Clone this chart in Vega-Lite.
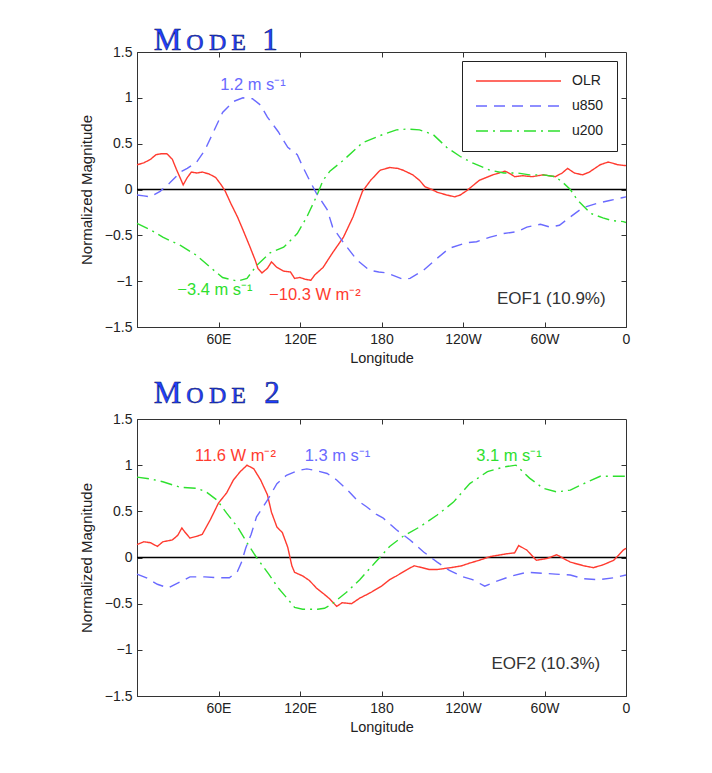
{
  "$schema": "https://vega.github.io/schema/vega-lite/v6.json",
  "background": "white",
  "padding": {"left": 78, "top": 24, "right": 5, "bottom": 5},
  "spacing": 12,
  "datasets": {
    "p1": [
      {"series":"OLR","lon":0,"v":0.27},{"series":"OLR","lon":5,"v":0.29},{"series":"OLR","lon":10,"v":0.33},{"series":"OLR","lon":14,"v":0.38},{"series":"OLR","lon":18,"v":0.39},{"series":"OLR","lon":22,"v":0.39},{"series":"OLR","lon":26,"v":0.33},{"series":"OLR","lon":29,"v":0.22},{"series":"OLR","lon":32,"v":0.12},{"series":"OLR","lon":34,"v":0.05},{"series":"OLR","lon":37,"v":0.13},{"series":"OLR","lon":40,"v":0.19},{"series":"OLR","lon":44,"v":0.18},{"series":"OLR","lon":48,"v":0.19},{"series":"OLR","lon":53,"v":0.17},{"series":"OLR","lon":58,"v":0.13},{"series":"OLR","lon":62,"v":0.05},{"series":"OLR","lon":65,"v":-0.02},{"series":"OLR","lon":69,"v":-0.15},{"series":"OLR","lon":74,"v":-0.3},{"series":"OLR","lon":78,"v":-0.44},{"series":"OLR","lon":83,"v":-0.62},{"series":"OLR","lon":87,"v":-0.77},{"series":"OLR","lon":89,"v":-0.86},{"series":"OLR","lon":92,"v":-0.91},{"series":"OLR","lon":96,"v":-0.86},{"series":"OLR","lon":99,"v":-0.79},{"series":"OLR","lon":103,"v":-0.85},{"series":"OLR","lon":108,"v":-0.89},{"series":"OLR","lon":113,"v":-0.9},{"series":"OLR","lon":116,"v":-0.97},{"series":"OLR","lon":120,"v":-0.96},{"series":"OLR","lon":124,"v":-0.98},{"series":"OLR","lon":128,"v":-0.99},{"series":"OLR","lon":131,"v":-0.93},{"series":"OLR","lon":137,"v":-0.85},{"series":"OLR","lon":144,"v":-0.69},{"series":"OLR","lon":152,"v":-0.52},{"series":"OLR","lon":159,"v":-0.3},{"series":"OLR","lon":166,"v":-0.02},{"series":"OLR","lon":172,"v":0.1},{"series":"OLR","lon":179,"v":0.21},{"series":"OLR","lon":186,"v":0.24},{"series":"OLR","lon":192,"v":0.23},{"series":"OLR","lon":196,"v":0.21},{"series":"OLR","lon":203,"v":0.16},{"series":"OLR","lon":208,"v":0.1},{"series":"OLR","lon":212,"v":0.03},{"series":"OLR","lon":217,"v":0.0},{"series":"OLR","lon":221,"v":-0.03},{"series":"OLR","lon":228,"v":-0.06},{"series":"OLR","lon":234,"v":-0.08},{"series":"OLR","lon":238,"v":-0.06},{"series":"OLR","lon":243,"v":-0.01},{"series":"OLR","lon":252,"v":0.1},{"series":"OLR","lon":262,"v":0.16},{"series":"OLR","lon":271,"v":0.2},{"series":"OLR","lon":275,"v":0.17},{"series":"OLR","lon":278,"v":0.14},{"series":"OLR","lon":284,"v":0.15},{"series":"OLR","lon":291,"v":0.14},{"series":"OLR","lon":299,"v":0.16},{"series":"OLR","lon":308,"v":0.14},{"series":"OLR","lon":313,"v":0.18},{"series":"OLR","lon":317,"v":0.23},{"series":"OLR","lon":322,"v":0.18},{"series":"OLR","lon":328,"v":0.16},{"series":"OLR","lon":333,"v":0.19},{"series":"OLR","lon":341,"v":0.27},{"series":"OLR","lon":347,"v":0.3},{"series":"OLR","lon":354,"v":0.27},{"series":"OLR","lon":360,"v":0.26},
      {"series":"u850","lon":0,"v":-0.06},{"series":"u850","lon":5,"v":-0.07},{"series":"u850","lon":10,"v":-0.08},{"series":"u850","lon":17,"v":-0.02},{"series":"u850","lon":24,"v":0.07},{"series":"u850","lon":32,"v":0.19},{"series":"u850","lon":37,"v":0.23},{"series":"u850","lon":44,"v":0.3},{"series":"u850","lon":50,"v":0.43},{"series":"u850","lon":56,"v":0.62},{"series":"u850","lon":63,"v":0.84},{"series":"u850","lon":71,"v":0.96},{"series":"u850","lon":78,"v":1.0},{"series":"u850","lon":85,"v":0.99},{"series":"u850","lon":91,"v":0.92},{"series":"u850","lon":96,"v":0.79},{"series":"u850","lon":104,"v":0.63},{"series":"u850","lon":111,"v":0.46},{"series":"u850","lon":118,"v":0.38},{"series":"u850","lon":122,"v":0.25},{"series":"u850","lon":127,"v":0.1},{"series":"u850","lon":132,"v":-0.04},{"series":"u850","lon":140,"v":-0.22},{"series":"u850","lon":144,"v":-0.41},{"series":"u850","lon":152,"v":-0.58},{"series":"u850","lon":162,"v":-0.77},{"series":"u850","lon":171,"v":-0.88},{"series":"u850","lon":178,"v":-0.9},{"series":"u850","lon":184,"v":-0.91},{"series":"u850","lon":196,"v":-0.98},{"series":"u850","lon":201,"v":-0.97},{"series":"u850","lon":211,"v":-0.88},{"series":"u850","lon":221,"v":-0.75},{"series":"u850","lon":230,"v":-0.64},{"series":"u850","lon":243,"v":-0.58},{"series":"u850","lon":250,"v":-0.57},{"series":"u850","lon":260,"v":-0.52},{"series":"u850","lon":270,"v":-0.48},{"series":"u850","lon":280,"v":-0.46},{"series":"u850","lon":287,"v":-0.41},{"series":"u850","lon":297,"v":-0.38},{"series":"u850","lon":304,"v":-0.41},{"series":"u850","lon":311,"v":-0.39},{"series":"u850","lon":319,"v":-0.3},{"series":"u850","lon":328,"v":-0.2},{"series":"u850","lon":339,"v":-0.15},{"series":"u850","lon":348,"v":-0.12},{"series":"u850","lon":357,"v":-0.09},{"series":"u850","lon":360,"v":-0.08},
      {"series":"u200","lon":0,"v":-0.37},{"series":"u200","lon":10,"v":-0.44},{"series":"u200","lon":19,"v":-0.52},{"series":"u200","lon":32,"v":-0.61},{"series":"u200","lon":44,"v":-0.72},{"series":"u200","lon":54,"v":-0.85},{"series":"u200","lon":63,"v":-0.96},{"series":"u200","lon":74,"v":-1.0},{"series":"u200","lon":81,"v":-0.97},{"series":"u200","lon":88,"v":-0.83},{"series":"u200","lon":98,"v":-0.69},{"series":"u200","lon":108,"v":-0.63},{"series":"u200","lon":118,"v":-0.48},{"series":"u200","lon":125,"v":-0.3},{"series":"u200","lon":132,"v":-0.08},{"series":"u200","lon":137,"v":0.1},{"series":"u200","lon":142,"v":0.2},{"series":"u200","lon":152,"v":0.32},{"series":"u200","lon":166,"v":0.51},{"series":"u200","lon":181,"v":0.6},{"series":"u200","lon":191,"v":0.65},{"series":"u200","lon":199,"v":0.66},{"series":"u200","lon":208,"v":0.65},{"series":"u200","lon":218,"v":0.6},{"series":"u200","lon":228,"v":0.46},{"series":"u200","lon":238,"v":0.36},{"series":"u200","lon":247,"v":0.29},{"series":"u200","lon":260,"v":0.21},{"series":"u200","lon":270,"v":0.18},{"series":"u200","lon":280,"v":0.18},{"series":"u200","lon":289,"v":0.16},{"series":"u200","lon":299,"v":0.16},{"series":"u200","lon":308,"v":0.14},{"series":"u200","lon":314,"v":0.07},{"series":"u200","lon":319,"v":0.0},{"series":"u200","lon":324,"v":-0.11},{"series":"u200","lon":334,"v":-0.26},{"series":"u200","lon":343,"v":-0.31},{"series":"u200","lon":350,"v":-0.34},{"series":"u200","lon":358,"v":-0.35},{"series":"u200","lon":360,"v":-0.36}
    ],
    "p2": [
      {"series":"OLR","lon":0,"v":0.14},{"series":"OLR","lon":5,"v":0.17},{"series":"OLR","lon":10,"v":0.16},{"series":"OLR","lon":15,"v":0.12},{"series":"OLR","lon":19,"v":0.17},{"series":"OLR","lon":26,"v":0.19},{"series":"OLR","lon":30,"v":0.24},{"series":"OLR","lon":33,"v":0.32},{"series":"OLR","lon":35,"v":0.28},{"series":"OLR","lon":39,"v":0.21},{"series":"OLR","lon":44,"v":0.23},{"series":"OLR","lon":48,"v":0.25},{"series":"OLR","lon":54,"v":0.41},{"series":"OLR","lon":60,"v":0.59},{"series":"OLR","lon":66,"v":0.7},{"series":"OLR","lon":71,"v":0.84},{"series":"OLR","lon":76,"v":0.93},{"series":"OLR","lon":81,"v":1.0},{"series":"OLR","lon":86,"v":0.96},{"series":"OLR","lon":91,"v":0.84},{"series":"OLR","lon":96,"v":0.68},{"series":"OLR","lon":99,"v":0.49},{"series":"OLR","lon":103,"v":0.33},{"series":"OLR","lon":107,"v":0.27},{"series":"OLR","lon":111,"v":0.11},{"series":"OLR","lon":114,"v":-0.09},{"series":"OLR","lon":116,"v":-0.16},{"series":"OLR","lon":122,"v":-0.2},{"series":"OLR","lon":127,"v":-0.25},{"series":"OLR","lon":132,"v":-0.33},{"series":"OLR","lon":138,"v":-0.4},{"series":"OLR","lon":142,"v":-0.45},{"series":"OLR","lon":147,"v":-0.53},{"series":"OLR","lon":151,"v":-0.49},{"series":"OLR","lon":158,"v":-0.5},{"series":"OLR","lon":164,"v":-0.44},{"series":"OLR","lon":172,"v":-0.38},{"series":"OLR","lon":180,"v":-0.31},{"series":"OLR","lon":186,"v":-0.24},{"series":"OLR","lon":191,"v":-0.2},{"series":"OLR","lon":199,"v":-0.13},{"series":"OLR","lon":204,"v":-0.09},{"series":"OLR","lon":210,"v":-0.11},{"series":"OLR","lon":215,"v":-0.13},{"series":"OLR","lon":221,"v":-0.13},{"series":"OLR","lon":226,"v":-0.12},{"series":"OLR","lon":231,"v":-0.11},{"series":"OLR","lon":239,"v":-0.09},{"series":"OLR","lon":245,"v":-0.06},{"series":"OLR","lon":252,"v":-0.03},{"series":"OLR","lon":260,"v":0.01},{"series":"OLR","lon":272,"v":0.04},{"series":"OLR","lon":278,"v":0.05},{"series":"OLR","lon":281,"v":0.13},{"series":"OLR","lon":287,"v":0.08},{"series":"OLR","lon":294,"v":-0.03},{"series":"OLR","lon":302,"v":-0.01},{"series":"OLR","lon":309,"v":0.03},{"series":"OLR","lon":319,"v":-0.05},{"series":"OLR","lon":329,"v":-0.09},{"series":"OLR","lon":336,"v":-0.11},{"series":"OLR","lon":343,"v":-0.08},{"series":"OLR","lon":351,"v":-0.03},{"series":"OLR","lon":358,"v":0.08},{"series":"OLR","lon":360,"v":0.1},
      {"series":"u850","lon":0,"v":-0.18},{"series":"u850","lon":7,"v":-0.22},{"series":"u850","lon":15,"v":-0.29},{"series":"u850","lon":23,"v":-0.33},{"series":"u850","lon":31,"v":-0.27},{"series":"u850","lon":39,"v":-0.21},{"series":"u850","lon":50,"v":-0.21},{"series":"u850","lon":60,"v":-0.22},{"series":"u850","lon":68,"v":-0.22},{"series":"u850","lon":74,"v":-0.15},{"series":"u850","lon":77,"v":-0.05},{"series":"u850","lon":80,"v":0.1},{"series":"u850","lon":84,"v":0.25},{"series":"u850","lon":88,"v":0.44},{"series":"u850","lon":96,"v":0.62},{"series":"u850","lon":103,"v":0.8},{"series":"u850","lon":110,"v":0.89},{"series":"u850","lon":118,"v":0.94},{"series":"u850","lon":125,"v":0.96},{"series":"u850","lon":132,"v":0.94},{"series":"u850","lon":140,"v":0.91},{"series":"u850","lon":147,"v":0.84},{"series":"u850","lon":155,"v":0.73},{"series":"u850","lon":162,"v":0.62},{"series":"u850","lon":169,"v":0.55},{"series":"u850","lon":176,"v":0.47},{"series":"u850","lon":181,"v":0.43},{"series":"u850","lon":191,"v":0.3},{"series":"u850","lon":201,"v":0.19},{"series":"u850","lon":211,"v":0.06},{"series":"u850","lon":221,"v":-0.05},{"series":"u850","lon":230,"v":-0.14},{"series":"u850","lon":240,"v":-0.21},{"series":"u850","lon":247,"v":-0.24},{"series":"u850","lon":256,"v":-0.31},{"series":"u850","lon":266,"v":-0.25},{"series":"u850","lon":276,"v":-0.2},{"series":"u850","lon":287,"v":-0.16},{"series":"u850","lon":298,"v":-0.17},{"series":"u850","lon":308,"v":-0.18},{"series":"u850","lon":319,"v":-0.19},{"series":"u850","lon":329,"v":-0.23},{"series":"u850","lon":340,"v":-0.24},{"series":"u850","lon":351,"v":-0.22},{"series":"u850","lon":360,"v":-0.19},
      {"series":"u200","lon":0,"v":0.87},{"series":"u200","lon":10,"v":0.85},{"series":"u200","lon":19,"v":0.82},{"series":"u200","lon":32,"v":0.76},{"series":"u200","lon":44,"v":0.75},{"series":"u200","lon":51,"v":0.71},{"series":"u200","lon":59,"v":0.62},{"series":"u200","lon":66,"v":0.48},{"series":"u200","lon":74,"v":0.33},{"series":"u200","lon":81,"v":0.16},{"series":"u200","lon":88,"v":0.0},{"series":"u200","lon":92,"v":-0.08},{"series":"u200","lon":97,"v":-0.18},{"series":"u200","lon":104,"v":-0.33},{"series":"u200","lon":111,"v":-0.45},{"series":"u200","lon":116,"v":-0.54},{"series":"u200","lon":122,"v":-0.56},{"series":"u200","lon":127,"v":-0.56},{"series":"u200","lon":133,"v":-0.56},{"series":"u200","lon":138,"v":-0.55},{"series":"u200","lon":143,"v":-0.51},{"series":"u200","lon":154,"v":-0.38},{"series":"u200","lon":164,"v":-0.24},{"series":"u200","lon":175,"v":-0.06},{"series":"u200","lon":186,"v":0.12},{"series":"u200","lon":196,"v":0.23},{"series":"u200","lon":208,"v":0.33},{"series":"u200","lon":221,"v":0.46},{"series":"u200","lon":233,"v":0.6},{"series":"u200","lon":245,"v":0.8},{"series":"u200","lon":258,"v":0.93},{"series":"u200","lon":270,"v":0.98},{"series":"u200","lon":279,"v":1.0},{"series":"u200","lon":289,"v":0.86},{"series":"u200","lon":299,"v":0.75},{"series":"u200","lon":309,"v":0.71},{"series":"u200","lon":319,"v":0.73},{"series":"u200","lon":329,"v":0.8},{"series":"u200","lon":341,"v":0.88},{"series":"u200","lon":353,"v":0.88},{"series":"u200","lon":360,"v":0.88}
    ],
    "n1": [
      {"series":"u850","label":"1.2 m s⁻¹","lon":85.4,"v":1.085},
      {"series":"u200","label":"−3.4 m s⁻¹","lon":57.4,"v":-1.15},
      {"series":"OLR","label":"−10.3 W m⁻²","lon":131,"v":-1.205}
    ],
    "n2": [
      {"series":"OLR","label":"11.6 W m⁻²","lon":72.5,"v":1.04},
      {"series":"u850","label":"1.3 m s⁻¹","lon":147.6,"v":1.04},
      {"series":"u200","label":"3.1 m s⁻¹","lon":273.9,"v":1.04}
    ],
    "e1": [{"label":"EOF1 (10.9%)","lon":305,"v":-1.25}],
    "e2": [{"label":"EOF2 (10.3%)","lon":301,"v":-1.21}],
    "t1": [
      {"ch":"M","cap":"big","lon":22.5,"v":1.52},
      {"ch":"O","cap":"small","lon":42.7,"v":1.52},
      {"ch":"D","cap":"small","lon":59.3,"v":1.52},
      {"ch":"E","cap":"small","lon":74.7,"v":1.52},
      {"ch":"1","cap":"big","lon":98,"v":1.52}
    ],
    "t2": [
      {"ch":"M","cap":"big","lon":22.5,"v":1.67},
      {"ch":"O","cap":"small","lon":42.7,"v":1.67},
      {"ch":"D","cap":"small","lon":59.3,"v":1.67},
      {"ch":"E","cap":"small","lon":74.7,"v":1.67},
      {"ch":"2","cap":"big","lon":99.4,"v":1.67}
    ]
  },
  "vconcat": [
    {
      "width": 489, "height": 275,
      "resolve": {"axis": {"x": "independent", "y": "independent"}},
      "layer": [
        {"data": {"values": [{}]}, "mark": {"type": "rule", "color": "black", "strokeWidth": 1.3},
         "encoding": {"y": {"datum": 0, "type": "quantitative", "scale": {"domain": [-1.5, 1.5], "nice": false, "zero": false}, "axis": null}}},
        {"data": {"name": "p1"}, "mark": {"type": "line", "strokeWidth": 1.4},
         "encoding": {
           "x": {"field": "lon", "type": "quantitative", "scale": {"domain": [0, 360], "nice": false, "zero": false},
                 "axis": {"orient": "bottom", "values": [60, 120, 180, 240, 300, 360], "labelExpr": "datum.value == 180 ? '180' : datum.value == 360 ? '0' : datum.value < 180 ? datum.value + 'E' : (360 - datum.value) + 'W'", "title": "Longitude", "titlePadding": 5}},
           "y": {"field": "v", "type": "quantitative", "scale": {"domain": [-1.5, 1.5], "nice": false, "zero": false},
                 "axis": {"orient": "left", "values": [-1.5, -1, -0.5, 0, 0.5, 1, 1.5], "format": "~g", "title": "Normalized Magnitude", "titleFontSize": 15, "titlePadding": 10}},
           "color": {"field": "series", "type": "nominal", "sort": ["OLR", "u850", "u200"],
                     "scale": {"domain": ["OLR", "u850", "u200"], "range": ["#ff3b30", "#6a6aff", "#2ee02e"]},
                     "legend": {"orient": "top-right", "offset": 9, "title": null}},
           "strokeDash": {"field": "series", "type": "nominal", "sort": ["OLR", "u850", "u200"],
                     "scale": {"domain": ["OLR", "u850", "u200"], "range": [[1, 0], [11, 7], [12, 5, 2, 5]]},
                     "legend": {"orient": "top-right", "offset": 9, "title": null}}
         }},
        {"data": {"name": "n1"}, "mark": {"type": "text", "fontSize": 16.5, "align": "center", "baseline": "alphabetic"},
         "encoding": {
           "x": {"field": "lon", "type": "quantitative", "axis": null},
           "y": {"field": "v", "type": "quantitative", "axis": null},
           "text": {"field": "label"},
           "color": {"field": "series", "type": "nominal", "legend": null}
         }},
        {"data": {"name": "e1"}, "mark": {"type": "text", "fontSize": 17, "align": "center", "baseline": "alphabetic", "color": "#333333"},
         "encoding": {
           "x": {"field": "lon", "type": "quantitative", "axis": {"orient": "top", "labels": false, "title": null, "domain": false, "values": [60, 120, 180, 240, 300]}},
           "y": {"field": "v", "type": "quantitative", "axis": {"orient": "right", "labels": false, "title": null, "domain": false, "values": [-1, -0.5, 0, 0.5, 1]}},
           "text": {"field": "label"}
         }},
        {"data": {"name": "t1"}, "mark": {"type": "text", "font": "Liberation Serif", "align": "center", "baseline": "alphabetic", "fill": "#1f40ff", "stroke": "#0c1660", "strokeWidth": 0.5},
         "encoding": {
           "x": {"field": "lon", "type": "quantitative", "axis": null},
           "y": {"field": "v", "type": "quantitative", "axis": null},
           "text": {"field": "ch"},
           "size": {"field": "cap", "type": "ordinal", "scale": {"domain": ["big", "small"], "range": [31, 24]}, "legend": null}
         }}
      ]
    },
    {
      "width": 489, "height": 277,
      "resolve": {"axis": {"x": "independent", "y": "independent"}},
      "layer": [
        {"data": {"values": [{}]}, "mark": {"type": "rule", "color": "black", "strokeWidth": 1.3},
         "encoding": {"y": {"datum": 0, "type": "quantitative", "scale": {"domain": [-1.5, 1.5], "nice": false, "zero": false}, "axis": null}}},
        {"data": {"name": "p2"}, "mark": {"type": "line", "strokeWidth": 1.4},
         "encoding": {
           "x": {"field": "lon", "type": "quantitative", "scale": {"domain": [0, 360], "nice": false, "zero": false},
                 "axis": {"orient": "bottom", "values": [60, 120, 180, 240, 300, 360], "labelExpr": "datum.value == 180 ? '180' : datum.value == 360 ? '0' : datum.value < 180 ? datum.value + 'E' : (360 - datum.value) + 'W'", "title": "Longitude", "titlePadding": 5}},
           "y": {"field": "v", "type": "quantitative", "scale": {"domain": [-1.5, 1.5], "nice": false, "zero": false},
                 "axis": {"orient": "left", "values": [-1.5, -1, -0.5, 0, 0.5, 1, 1.5], "format": "~g", "title": "Normalized Magnitude", "titleFontSize": 15, "titlePadding": 10}},
           "color": {"field": "series", "type": "nominal",
                     "scale": {"domain": ["OLR", "u850", "u200"], "range": ["#ff3b30", "#6a6aff", "#2ee02e"]}, "legend": null},
           "strokeDash": {"field": "series", "type": "nominal",
                     "scale": {"domain": ["OLR", "u850", "u200"], "range": [[1, 0], [11, 7], [12, 5, 2, 5]]}, "legend": null}
         }},
        {"data": {"name": "n2"}, "mark": {"type": "text", "fontSize": 16.5, "align": "center", "baseline": "alphabetic"},
         "encoding": {
           "x": {"field": "lon", "type": "quantitative", "axis": null},
           "y": {"field": "v", "type": "quantitative", "axis": null},
           "text": {"field": "label"},
           "color": {"field": "series", "type": "nominal", "legend": null}
         }},
        {"data": {"name": "e2"}, "mark": {"type": "text", "fontSize": 17, "align": "center", "baseline": "alphabetic", "color": "#333333"},
         "encoding": {
           "x": {"field": "lon", "type": "quantitative", "axis": {"orient": "top", "labels": false, "title": null, "domain": false, "values": [60, 120, 180, 240, 300]}},
           "y": {"field": "v", "type": "quantitative", "axis": {"orient": "right", "labels": false, "title": null, "domain": false, "values": [-1, -0.5, 0, 0.5, 1]}},
           "text": {"field": "label"}
         }},
        {"data": {"name": "t2"}, "mark": {"type": "text", "font": "Liberation Serif", "align": "center", "baseline": "alphabetic", "fill": "#1f40ff", "stroke": "#0c1660", "strokeWidth": 0.5},
         "encoding": {
           "x": {"field": "lon", "type": "quantitative", "axis": null},
           "y": {"field": "v", "type": "quantitative", "axis": null},
           "text": {"field": "ch"},
           "size": {"field": "cap", "type": "ordinal", "scale": {"domain": ["big", "small"], "range": [31, 24]}, "legend": null}
         }}
      ]
    }
  ],
  "resolve": {
    "scale": {"color": "independent", "strokeDash": "independent", "size": "independent"},
    "legend": {"color": "independent", "strokeDash": "independent"}
  },
  "config": {
    "font": "Liberation Sans",
    "view": {"stroke": "#333333", "strokeWidth": 1},
    "axis": {
      "grid": false, "domainColor": "#333333", "tickColor": "#333333", "labelColor": "#222222", "titleColor": "#222222",
      "labelFont": "Liberation Sans", "titleFont": "Liberation Sans", "labelFontSize": 14, "titleFontSize": 14.5,
      "titleFontWeight": "normal", "labelFlush": false, "labelOverlap": false, "tickSize": -5, "labelPadding": 10
    },
    "legend": {
      "labelFont": "Liberation Sans", "labelFontSize": 14, "labelColor": "#222222",
      "strokeColor": "#222222", "fillColor": "white", "padding": 13,
      "symbolType": "stroke", "symbolSize": 7225, "symbolStrokeWidth": 1.3, "clipHeight": 14,
      "rowPadding": 11, "labelOffset": 10
    }
  }
}
